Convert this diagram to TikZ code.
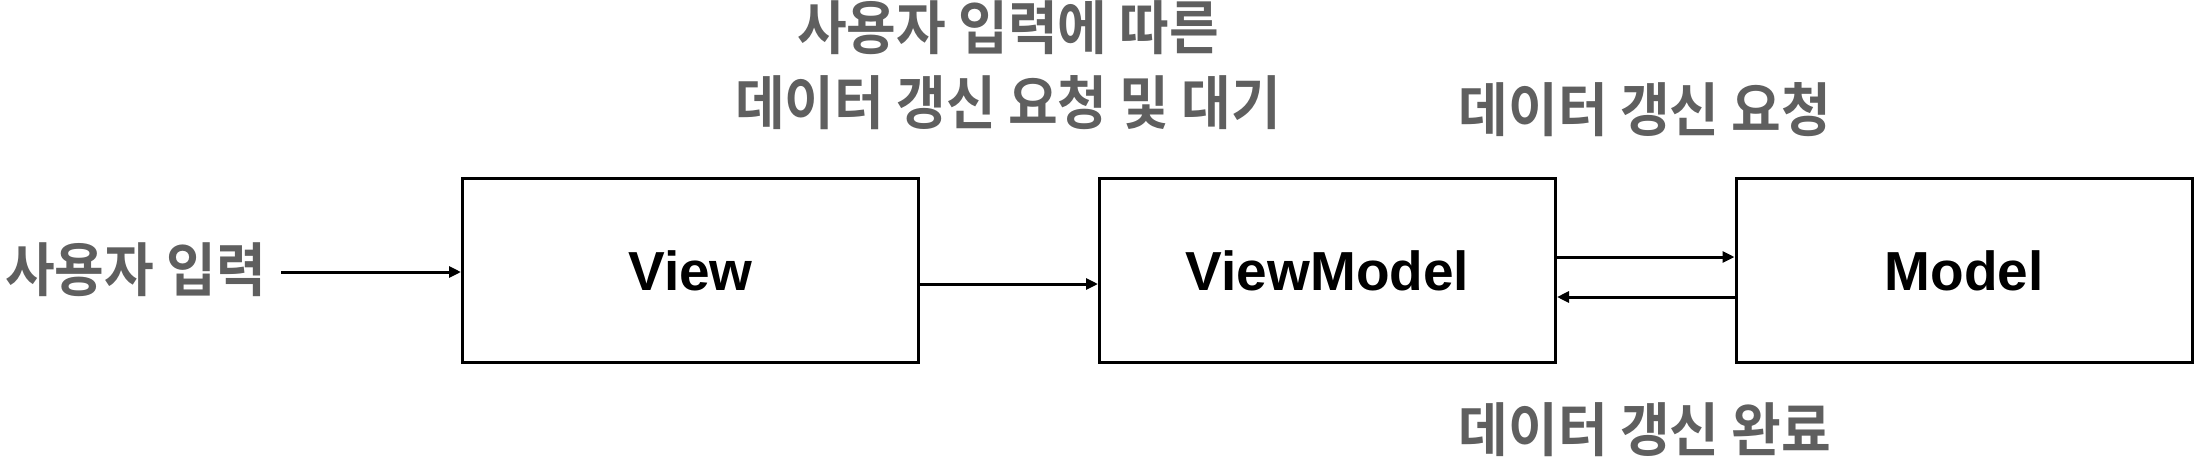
\documentclass[tikz,border=0pt]{standalone}
\usepackage{fontspec}
\setmainfont{Liberation Sans}
\newfontfamily\krfont{Noto Sans CJK KR Bold}
\usetikzlibrary{arrows.meta}
\definecolor{lbl}{HTML}{5F5F5F}
\newcommand{\kr}[1]{\scalebox{1}[1.08]{#1}}
\tikzset{
  box/.style={draw=black, line width=3pt, minimum width=456pt, minimum height=184pt, inner sep=0pt,
     font=\fontsize{55}{60}\selectfont\bfseries},
  lab/.style={text=lbl, inner sep=0pt, font=\krfont\fontsize{54}{60}\selectfont},
  conn/.style={line width=3pt, -{Triangle[length=12pt,width=11pt]}},
}
\begin{document}
\begin{tikzpicture}[x=1pt,y=-1pt]
\useasboundingbox (0,0) rectangle (2210,472);
\node[box] (view) at (690.5,270.5) {View};
\node[box] (vm) at (1327.5,270.5) {ViewModel};
\node[box] (model) at (1964,270.5) {Model};
\node[lab, anchor=east] (inp) at (266,270) {\kr{사용자 입력}};
\node[lab] (t1) at (1008,28) {\kr{사용자 입력에 따른}};
\node[lab] (t2) at (1008,102.5) {\kr{데이터 갱신 요청 및 대기}};
\node[lab] (req) at (1645,110) {\kr{데이터 갱신 요청}};
\node[lab] (done) at (1645,430) {\kr{데이터 갱신 완료}};
\coordinate (src) at (281,272);
\draw[conn] (src) -- (src -| view.west);
\draw[conn] ([yshift=-13.5pt]view.east) -- ([yshift=-13.5pt]vm.west);
\draw[conn] ([yshift=13.5pt]vm.east) -- ([yshift=13.5pt]model.west);
\draw[conn] ([yshift=-26.5pt]model.west) -- ([yshift=-26.5pt]vm.east);
\end{tikzpicture}
\end{document}
